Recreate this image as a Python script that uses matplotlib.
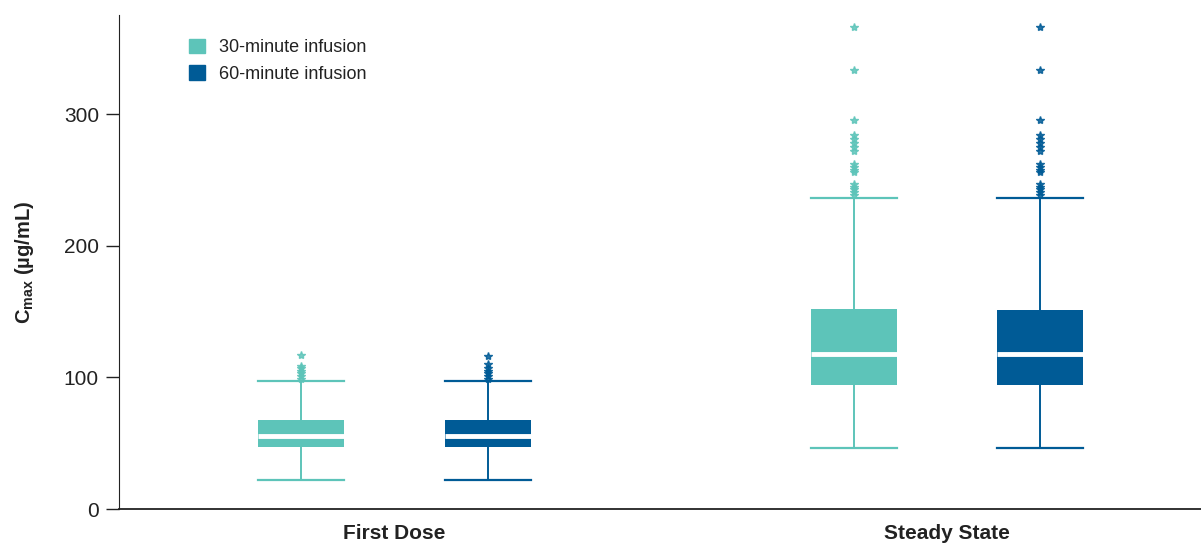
import matplotlib
matplotlib.use("Agg")
import matplotlib.pyplot as plt
import matplotlib.patches as mpatches

# ─── data ───────────────────────────────────────────────────────────────────

GROUPS = ["First Dose", "Steady State"]
SERIES = ["30-minute infusion", "60-minute infusion"]
COLORS = ["#5DC4B9", "#005B96"]

# per series: [first dose, steady state]
q1 = [[47.5, 94], [47.5, 94]]
med = [[55.5, 117.5], [55.5, 117.5]]
q3 = [[68, 152], [68, 151]]
whislo = [[22, 46], [22, 46]]
whishi = [[97, 236], [97, 236]]
fliers = [
    [[99, 101, 103, 105, 107, 109, 117],
     [239, 241, 243, 245, 247, 256, 258, 260, 262, 272, 275, 278, 281, 284, 296, 334, 366]],
    [[99, 101, 103, 105, 107, 110, 116],
     [239, 241, 243, 245, 247, 256, 258, 260, 262, 272, 275, 278, 281, 284, 296, 334, 366]],
]

plt.rcParams["font.family"] = ["Liberation Sans", "DejaVu Sans"]

fig = plt.figure(figsize=(12.01, 5.45), dpi=100)
ax = fig.add_axes([0.0991, 0.066, 0.9009, 0.9064])

offset = 0.169
width = 0.156
for s, color in enumerate(COLORS):
    stats = []
    for g in range(len(GROUPS)):
        stats.append(dict(med=med[s][g], q1=q1[s][g], q3=q3[s][g],
                          whislo=whislo[s][g], whishi=whishi[s][g],
                          fliers=fliers[s][g]))
    pos = [g + 1 + (offset if s else -offset) for g in range(len(GROUPS))]
    ax.bxp(stats, positions=pos, widths=width, patch_artist=True,
           showfliers=True,
           boxprops=dict(facecolor=color, edgecolor="none", linewidth=0),
           medianprops=dict(color="white", linewidth=3.5),
           whiskerprops=dict(color=color, linewidth=1.4),
           capprops=dict(color=color, linewidth=1.6),
           capwidths=width,
           flierprops=dict(marker="*", markersize=6, markerfacecolor=color,
                           markeredgecolor=color, alpha=0.85, linestyle="none"))

ax.set_xlim(0.501, 2.46)
ax.set_ylim(0, 375.4)
ax.set_xticks([1, 2])
ax.set_xticklabels(GROUPS, fontsize=15, fontweight="bold", color="#222222")
ax.tick_params(axis="x", length=0, pad=11)
ax.set_yticks([0, 100, 200, 300])
ax.tick_params(axis="y", length=9.5, width=1, labelsize=15, colors="#222222",
               pad=5)
ax.spines["top"].set_visible(False)
ax.spines["right"].set_visible(False)
ax.spines["left"].set_color("#222222")
ax.spines["bottom"].set_color("#222222")
ax.spines["bottom"].set_linewidth(1.3)

ax.set_ylabel(r"C$_{\mathregular{max}}$ (µg/mL)", fontsize=14.5,
              fontweight="bold", color="#222222", labelpad=20)

handles = [mpatches.Patch(color=c, label=l) for c, l in zip(COLORS, SERIES)]
ax.legend(handles=handles, loc="upper left", bbox_to_anchor=(0.050, 0.985),
          frameon=False, fontsize=13, handlelength=0.85, handleheight=0.85,
          handletextpad=0.8, labelspacing=0.5, labelcolor="#222222")

fig.savefig("out.png", dpi=100)
